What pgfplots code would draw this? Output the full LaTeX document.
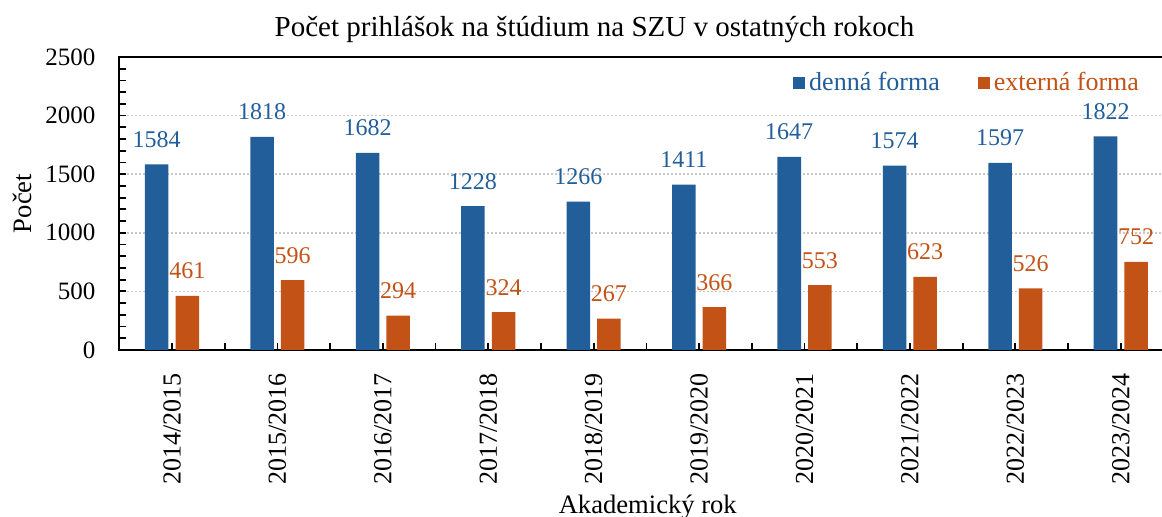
\documentclass[border=0pt]{standalone}
\usepackage{fontspec}
\setmainfont{Liberation Serif}
\usepackage{pgfplots}
\pgfplotsset{compat=1.18}

\definecolor{cBlue}{RGB}{34,94,154}
\definecolor{cOrange}{RGB}{195,82,22}
\definecolor{cGrid}{RGB}{200,200,200}

\pgfplotstableread{
x denna externa
0 1584 461
1 1818 596
2 1682 294
3 1228 324
4 1266 267
5 1411 366
6 1647 553
7 1574 623
8 1597 526
9 1822 752
}\prihlasky

\begin{document}
\begin{tikzpicture}
\begin{axis}[
  ybar, bar width=0.223,
  scale only axis, width=522.5pt, height=146.5pt,
  xmin=-0.503, xmax=9.41, ymin=0, ymax=2500,
  axis line style={line width=1pt},
  xtick pos=left, ytick pos=left,
  tick align=inside, xtick align=inside, ytick align=inside,
  tick style={line width=0.9pt, black},
  major tick length=3.5pt, minor tick length=3.5pt,
  xtick={0,...,9}, minor x tick num=1,
  xticklabels={2014/2015,2015/2016,2016/2017,2017/2018,2018/2019,2019/2020,2020/2021,2021/2022,2022/2023,2023/2024},
  xticklabel style={rotate=90, anchor=east, xshift=-8pt, font=\fontsize{13}{15}\selectfont},
  ytick={0,500,...,2500}, minor y tick num=4,
  yticklabel style={xshift=-8.3pt, font=\fontsize{12.5}{14}\selectfont},
  /pgf/number format/assume math mode=true,
  /pgf/number format/1000 sep={},
  ymajorgrids, major grid style={cGrid, line width=0.75pt, dash pattern=on 1pt off 1pt},
  title={Počet prihlášok na štúdium na SZU v ostatných rokoch},
  title style={at={(axis description cs:0.455,1)}, anchor=base, yshift=4pt, font=\fontsize{14.5}{17}\selectfont},
  xlabel={Akademický rok},
  every axis x label/.style={at={(axis description cs:0.506,0)}, yshift=-82pt, anchor=base, font=\fontsize{13.3}{16}\selectfont},
  ylabel={Počet},
  every axis y label/.style={at={(axis description cs:-0.0833,0.5)}, rotate=90, anchor=base, font=\fontsize{13.3}{16}\selectfont},
  nodes near coords,
  legend columns=2,
  legend style={at={(axis description cs:0.986,0.911)}, anchor=east, draw=none, fill=none,
    font=\fontsize{13}{15}\selectfont, /tikz/every even column/.append style={column sep=17pt}},
]
\addplot[fill=cBlue, draw=none, bar shift=-0.145,
  nodes near coords style={anchor=base, inner sep=0pt, yshift=8.5pt, text=cBlue, font=\fontsize{12}{14}\selectfont},
  legend image code/.code={\fill[cBlue] (0pt,-3pt) rectangle (6pt,3pt);}]
  table[x=x, y=denna] {\prihlasky};
\addlegendentry{\textcolor{cBlue}{denná forma}}
\addplot[fill=cOrange, draw=none, bar shift=0.145,
  nodes near coords style={anchor=base, inner sep=0pt, yshift=8.5pt, text=cOrange, font=\fontsize{12}{14}\selectfont},
  legend image code/.code={\fill[cOrange] (0pt,-3pt) rectangle (6pt,3pt);}]
  table[x=x, y=externa] {\prihlasky};
\addlegendentry{\textcolor{cOrange}{externá forma}}
\coordinate (SW) at (rel axis cs:0,0);
\coordinate (NE) at (rel axis cs:1,1);
\end{axis}
\pgfresetboundingbox
\path[use as bounding box] ([shift={(-59.5pt,-83.5pt)}]SW) rectangle ([shift={(-1pt,28.5pt)}]NE);
\end{tikzpicture}
\end{document}
